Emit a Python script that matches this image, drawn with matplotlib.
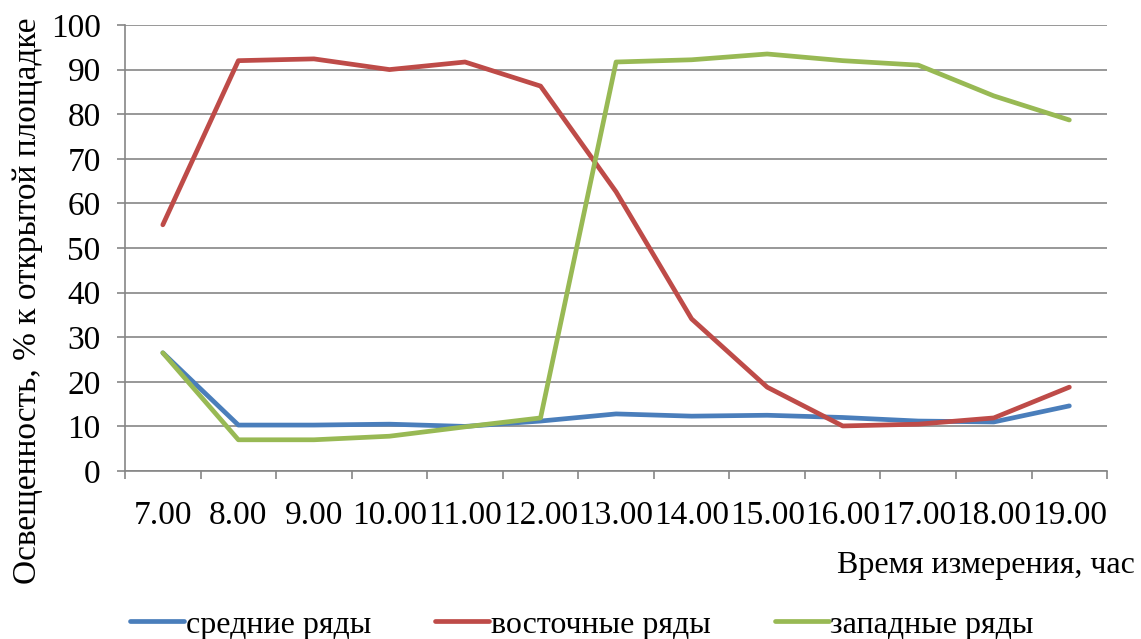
import matplotlib.pyplot as plt
from matplotlib.ticker import FixedLocator

plt.rcParams['font.family'] = ['Liberation Serif', 'DejaVu Serif']

hours = ['7.00', '8.00', '9.00', '10.00', '11.00', '12.00', '13.00',
         '14.00', '15.00', '16.00', '17.00', '18.00', '19.00']
middle_rows = [26.5, 10.3, 10.3, 10.5, 10.0, 11.2, 12.8, 12.3, 12.5, 12.0, 11.2, 11.0, 14.6]
east_rows = [55.2, 92.0, 92.4, 90.0, 91.7, 86.3, 62.6, 34.1, 18.8, 10.1, 10.5, 11.9, 18.8]
west_rows = [26.5, 7.0, 7.0, 7.8, 9.9, 11.9, 91.7, 92.2, 93.5, 92.0, 91.0, 84.1, 78.7]

grid_color = '#868686'

fig = plt.figure(figsize=(11.41, 6.39), dpi=100)
ax = fig.add_axes([0.1096, 0.2629, 0.8607, 0.698])

x = list(range(len(hours)))
ax.plot(x, middle_rows, color='#4A7EBB', lw=3.4, label='средние ряды', solid_capstyle='round')
ax.plot(x, east_rows, color='#BE4B48', lw=3.4, label='восточные ряды', solid_capstyle='round')
ax.plot(x, west_rows, color='#98B954', lw=3.4, label='западные ряды', solid_capstyle='round')

ax.set_xlim(-0.5, len(hours) - 0.5)
ax.set_ylim(0, 100)
ax.set_yticks(range(0, 101, 10))
ax.set_xticks(x)
ax.set_xticklabels(hours)
ax.xaxis.set_minor_locator(FixedLocator([i - 0.5 for i in range(len(hours) + 1)]))
ax.tick_params(axis='x', which='major', length=0, pad=21, labelsize=24)
ax.tick_params(axis='x', which='minor', length=5.5, width=1.2, color=grid_color)
ax.tick_params(axis='y', length=5.5, width=1.2, color=grid_color, labelsize=24, pad=12)

ax.grid(axis='y', color=grid_color, lw=1.2)
ax.set_axisbelow(True)
for side in ['top', 'right']:
    ax.spines[side].set_visible(False)
for side in ['left', 'bottom']:
    ax.spines[side].set_color(grid_color)
    ax.spines[side].set_linewidth(1.2)

fig.text(0.024, 0.53, 'Освещенность, % к открытой площадке', rotation=90,
         ha='center', va='center', fontsize=24)
fig.text(0.995, 0.115, 'Время измерения, час', ha='right', va='center', fontsize=23)

fig.legend(loc='center', bbox_to_anchor=(0.51, 0.022), ncol=3, frameon=False,
           fontsize=23, handlelength=1.7, handletextpad=0.05, columnspacing=2.0)

fig.savefig('out.png', dpi=100)
